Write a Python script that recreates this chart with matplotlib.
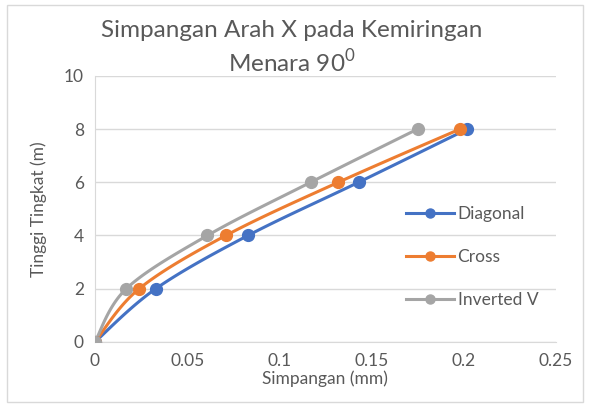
import numpy as np
import matplotlib
matplotlib.use("Agg")
import matplotlib.pyplot as plt
from matplotlib.patches import Rectangle
from matplotlib.lines import Line2D

# data
heights = [0, 2, 4, 6, 8]
diagonal = [0, 0.033, 0.083, 0.143, 0.202]
cross = [0, 0.024, 0.071, 0.132, 0.198]
inverted_v = [0, 0.017, 0.061, 0.117, 0.175]
series_names = ["Diagonal", "Cross", "Inverted V"]
series_colors = ["#4472C4", "#ED7D31", "#A5A5A5"]


def smooth(xs, ys, steps=30):
    """Catmull-Rom style smoothing, like Excel's smoothed scatter lines."""
    pts = np.column_stack([xs, ys]).astype(float)
    p = np.vstack([pts[0], pts, pts[-1]])
    out = []
    for i in range(1, len(p) - 2):
        p0, p1, p2, p3 = p[i - 1], p[i], p[i + 1], p[i + 2]
        c1 = p1 + (p2 - p0) / 6
        c2 = p2 - (p3 - p1) / 6
        t = np.linspace(0, 1, steps)[:, None]
        seg = ((1 - t) ** 3 * p1 + 3 * (1 - t) ** 2 * t * c1
               + 3 * (1 - t) * t ** 2 * c2 + t ** 3 * p2)
        out.append(seg)
    out = np.vstack(out)
    return out[:, 0], out[:, 1]


plt.rcParams["font.family"] = ["Lato", "DejaVu Sans"]
plt.rcParams["mathtext.fontset"] = "custom"
plt.rcParams["mathtext.rm"] = "Lato"

fig = plt.figure(figsize=(5.9, 4.08), dpi=100)
ax = fig.add_axes([0.161, 0.162, 0.781, 0.652])

text_color = "#595959"
handles = []
for name, xs, color in zip(series_names, [diagonal, cross, inverted_v], series_colors):
    sx, sy = smooth(xs, heights)
    ax.plot(sx, sy, color=color, linewidth=2.2, zorder=3)
    ax.plot(xs, heights, linestyle="none", marker="o", markersize=8.5,
            color=color, zorder=4)
    handles.append(Line2D([], [], color=color, linewidth=2.2, marker="o",
                          markersize=6.5, label=name))

ax.set_xlim(0, 0.25)
ax.set_ylim(0, 10)
ax.set_xticks([0, 0.05, 0.1, 0.15, 0.2, 0.25])
ax.set_xticklabels(["0", "0.05", "0.1", "0.15", "0.2", "0.25"])
ax.set_yticks([0, 2, 4, 6, 8, 10])
ax.grid(axis="y", color="#D9D9D9", linewidth=1)
ax.set_axisbelow(True)
ax.tick_params(length=0, labelsize=12.5, colors=text_color, pad=8)
for side in ["top", "right"]:
    ax.spines[side].set_visible(False)
for side in ["left", "bottom"]:
    ax.spines[side].set_color("#D9D9D9")

ax.set_xlabel("Simpangan (mm)", fontsize=12.5, color=text_color, labelpad=1)
ax.set_ylabel("Tinggi Tingkat (m)", fontsize=12.5, color=text_color, labelpad=12)

fig.text(0.495, 0.925, "Simpangan Arah X pada Kemiringan", ha="center",
         va="center", fontsize=17.5, color=text_color)
fig.text(0.495, 0.848, r"Menara 90$^{\mathregular{0}}$", ha="center",
         va="center", fontsize=17.5, color=text_color)

ax.legend(handles=handles, loc="center left",
          bbox_to_anchor=(0.64, 0.32), frameon=False, fontsize=12.5,
          labelspacing=1.55, handlelength=2.8, handletextpad=0.2,
          labelcolor=text_color)

fig.patches.append(Rectangle((0.012, 0.015), 0.976, 0.972, transform=fig.transFigure,
                             fill=False, edgecolor="#D9D9D9", linewidth=1))

fig.savefig("out.png", dpi=100)
